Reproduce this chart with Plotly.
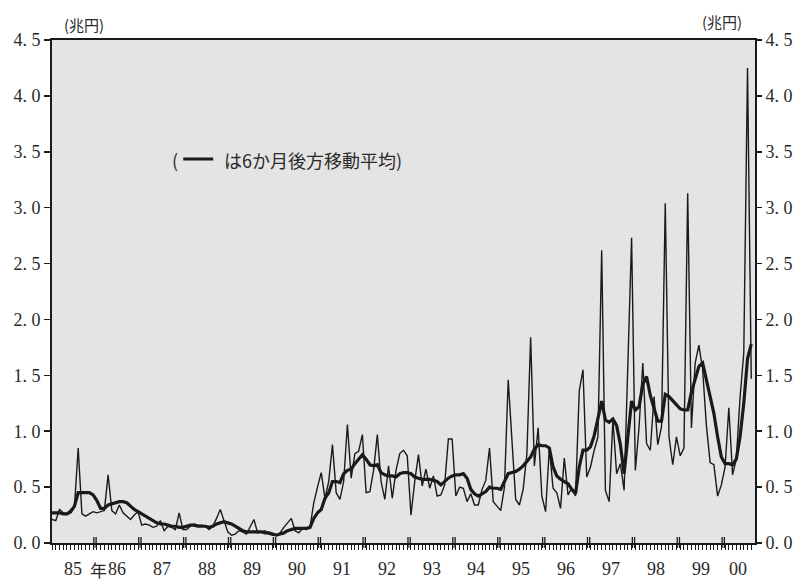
import plotly.graph_objects as go

# ---------------- data (monthly, Jan 1985 = index 0) ----------------
monthly = [
    0.21, 0.20, 0.30, 0.27, 0.26, 0.30, 0.32, 0.85, 0.26, 0.24, 0.26, 0.28,   # 1985
    0.27, 0.28, 0.29, 0.61, 0.29, 0.26, 0.34, 0.27, 0.24, 0.21, 0.25, 0.28,   # 1986
    0.16, 0.17, 0.16, 0.14, 0.15, 0.20, 0.11, 0.15, 0.14, 0.12, 0.27, 0.12,   # 1987
    0.12, 0.15, 0.17, 0.16, 0.16, 0.15, 0.12, 0.15, 0.22, 0.30, 0.20, 0.10,   # 1988
    0.07, 0.08, 0.11, 0.10, 0.08, 0.15, 0.21, 0.09, 0.10, 0.11, 0.08, 0.07,   # 1989
    0.07, 0.09, 0.14, 0.18, 0.22, 0.11, 0.09, 0.13, 0.12, 0.14, 0.36, 0.50,   # 1990
    0.63, 0.40, 0.55, 0.88, 0.45, 0.39, 0.55, 1.06, 0.58, 0.80, 0.82, 0.97,   # 1991
    0.45, 0.46, 0.65, 0.97, 0.55, 0.39, 0.69, 0.40, 0.65, 0.80, 0.83, 0.78,   # 1992
    0.25, 0.55, 0.79, 0.51, 0.66, 0.49, 0.60, 0.42, 0.43, 0.52, 0.93, 0.93,   # 1993
    0.42, 0.50, 0.49, 0.37, 0.44, 0.34, 0.34, 0.48, 0.56, 0.85, 0.37, 0.33,   # 1994
    0.29, 0.50, 1.46, 0.92, 0.39, 0.34, 0.48, 0.80, 1.84, 0.69, 1.03, 0.42,   # 1995
    0.28, 0.85, 0.49, 0.45, 0.31, 0.76, 0.43, 0.49, 0.42, 1.36, 1.55, 0.59,   # 1996
    0.68, 0.83, 0.95, 2.62, 0.47, 0.37, 1.10, 0.62, 0.71, 0.47, 1.50, 2.73,   # 1997
    0.65, 1.04, 1.61, 0.89, 0.83, 1.31, 0.88, 1.04, 3.04, 0.95, 0.70, 0.95,   # 1998
    0.78, 0.85, 3.13, 1.03, 1.61, 1.77, 1.55, 1.05, 0.72, 0.70, 0.42, 0.52,   # 1999
    0.68, 1.21, 0.61, 0.75, 1.30, 1.70, 4.25, 1.47,                           # 2000
]

moving_avg_6m = [
    0.27, 0.27, 0.27, 0.26, 0.26, 0.28, 0.33, 0.45, 0.45, 0.45, 0.45, 0.43,   # 1985
    0.38, 0.31, 0.31, 0.34, 0.35, 0.36, 0.37, 0.37, 0.36, 0.33, 0.30, 0.28,   # 1986
    0.26, 0.24, 0.22, 0.20, 0.18, 0.17, 0.17, 0.16, 0.15, 0.15, 0.14, 0.14,   # 1987
    0.15, 0.16, 0.16, 0.15, 0.15, 0.15, 0.14, 0.15, 0.17, 0.18, 0.19, 0.18,   # 1988
    0.17, 0.15, 0.13, 0.11, 0.10, 0.10, 0.10, 0.10, 0.10, 0.09, 0.09, 0.08,   # 1989
    0.07, 0.08, 0.09, 0.11, 0.12, 0.13, 0.13, 0.13, 0.13, 0.14, 0.22, 0.27,   # 1990
    0.30, 0.40, 0.45, 0.55, 0.55, 0.54, 0.62, 0.65, 0.66, 0.71, 0.75, 0.79,   # 1991
    0.75, 0.70, 0.69, 0.70, 0.63, 0.61, 0.60, 0.60, 0.59, 0.62, 0.63, 0.63,   # 1992
    0.62, 0.59, 0.58, 0.57, 0.57, 0.57, 0.56, 0.55, 0.52, 0.55, 0.58, 0.60,   # 1993
    0.61, 0.61, 0.62, 0.58, 0.48, 0.44, 0.42, 0.44, 0.46, 0.50, 0.49, 0.49,   # 1994
    0.48, 0.55, 0.62, 0.63, 0.64, 0.66, 0.69, 0.73, 0.77, 0.84, 0.88, 0.87,   # 1995
    0.87, 0.85, 0.68, 0.60, 0.57, 0.55, 0.53, 0.48, 0.44, 0.68, 0.83, 0.83,   # 1996
    0.86, 0.96, 1.10, 1.27, 1.10, 1.08, 1.11, 1.05, 0.88, 0.62, 0.95, 1.27,   # 1997
    1.19, 1.22, 1.42, 1.49, 1.32, 1.20, 1.09, 1.09, 1.33, 1.31, 1.27, 1.23,   # 1998
    1.20, 1.19, 1.19, 1.35, 1.46, 1.58, 1.61, 1.45, 1.30, 1.16, 0.95, 0.77,   # 1999
    0.71, 0.71, 0.70, 0.75, 0.95, 1.25, 1.65, 1.78,                           # 2000
]

months = list(range(len(monthly)))

y_tick_values = [0.0, 0.5, 1.0, 1.5, 2.0, 2.5, 3.0, 3.5, 4.0, 4.5]
y_tick_text = ["0. 0", "0. 5", "1. 0", "1. 5", "2. 0", "2. 5", "3. 0", "3. 5", "4. 0", "4. 5"]
year_labels = ["85", "86", "87", "88", "89", "90", "91", "92", "93", "94",
               "95", "96", "97", "98", "99", "00"]
unit_label = "(兆円)"
legend_text = "は6か月後方移動平均)"

# ---------------- figure ----------------
SERIF = "Liberation Serif, DejaVu Serif, serif"
CJK = "Noto Sans CJK JP, sans-serif"
INK = "#1a1a1a"
TXT = "#2a2a2a"

X_MAX = 188.0
fig = go.Figure()

fig.add_trace(go.Scatter(
    x=months, y=monthly, mode="lines",
    line=dict(color=INK, width=1.4), hoverinfo="skip", showlegend=False,
    yaxis="y2",
))
fig.add_trace(go.Scatter(
    x=months, y=moving_avg_6m, mode="lines",
    line=dict(color=INK, width=3.2), hoverinfo="skip", showlegend=False,
))

shapes = []
# double tick marks at each year boundary
for k in range(1, 16):
    b = 12 * k - 0.5
    for off in (-0.3, 0.3):
        shapes.append(dict(type="line", xref="x", yref="paper",
                           x0=b + off, x1=b + off, y0=-0.010, y1=0.012,
                           line=dict(color=INK, width=1.3)))
# legend sample line
shapes.append(dict(type="line", xref="paper", yref="paper",
                   x0=(183 - 51.7) / 703.3, x1=(213 - 51.7) / 703.3,
                   y0=(543 - 159) / 503, y1=(543 - 159) / 503,
                   line=dict(color=INK, width=3)))

annotations = []
label_pos = [12 * k + 5.5 for k in range(len(year_labels))]
label_pos[-1] = 183.5
for lbl, xp in zip(year_labels, label_pos):
    annotations.append(dict(x=xp, y=-0.052, xref="x", yref="paper",
                            text=lbl, showarrow=False,
                            font=dict(family=SERIF, size=18, color=TXT),
                            xanchor="center", yanchor="middle"))
annotations.append(dict(x=(98 - 51.7) / 703.3, y=-0.052, xref="paper", yref="paper",
                        text="年", showarrow=False,
                        font=dict(family=CJK, size=17, color=TXT),
                        xanchor="center", yanchor="middle"))
# unit labels
annotations.append(dict(x=(84 - 51.7) / 703.3, y=(543 - 24) / 503, xref="paper", yref="paper",
                        text=unit_label, showarrow=False,
                        font=dict(family=CJK, size=15, color=TXT),
                        xanchor="center", yanchor="middle"))
annotations.append(dict(x=(722 - 51.7) / 703.3, y=(543 - 22) / 503, xref="paper", yref="paper",
                        text=unit_label, showarrow=False,
                        font=dict(family=CJK, size=15, color=TXT),
                        xanchor="center", yanchor="middle"))
# legend text
annotations.append(dict(x=(175 - 51.7) / 703.3, y=(543 - 160) / 503, xref="paper", yref="paper",
                        text="(", showarrow=False,
                        font=dict(family=CJK, size=18, color=TXT),
                        xanchor="center", yanchor="middle"))
annotations.append(dict(x=(222 - 51.7) / 703.3, y=(543 - 160) / 503, xref="paper", yref="paper",
                        text=legend_text, showarrow=False,
                        font=dict(family=CJK, size=18, color=TXT),
                        xanchor="left", yanchor="middle"))

fig.update_layout(
    width=798, height=581,
    margin=dict(l=52, r=43, t=40, b=38, autoexpand=False),
    paper_bgcolor="white",
    plot_bgcolor="#e4e4e4",
    showlegend=False,
    xaxis=dict(
        range=[0, X_MAX], tickvals=months, ticktext=[""] * len(months),
        ticks="outside", ticklen=5, tickwidth=1, tickcolor=INK,
        showline=True, linecolor=INK, linewidth=2, mirror=True,
        showgrid=False, zeroline=False, fixedrange=True, automargin=False,
    ),
    yaxis=dict(
        range=[0, 4.5], tickvals=y_tick_values, ticktext=y_tick_text,
        ticks="outside", ticklen=6, tickwidth=1.5, tickcolor=INK,
        showline=True, linecolor=INK, linewidth=2, mirror=True,
        showgrid=False, zeroline=False, automargin=False,
        tickfont=dict(family=SERIF, size=18, color=TXT),
    ),
    yaxis2=dict(
        range=[0, 4.5], tickvals=y_tick_values, ticktext=y_tick_text,
        overlaying="y", side="right",
        ticks="outside", ticklen=6, tickwidth=1.5, tickcolor=INK,
        showline=False, showgrid=False, zeroline=False, automargin=False,
        tickfont=dict(family=SERIF, size=18, color=TXT),
    ),
    shapes=shapes,
    annotations=annotations,
)

fig.write_html(
    "out.html",
    config={"displayModeBar": False, "staticPlot": True},
    post_script="document.body.style.margin='0';document.body.style.overflow='hidden';",
)
